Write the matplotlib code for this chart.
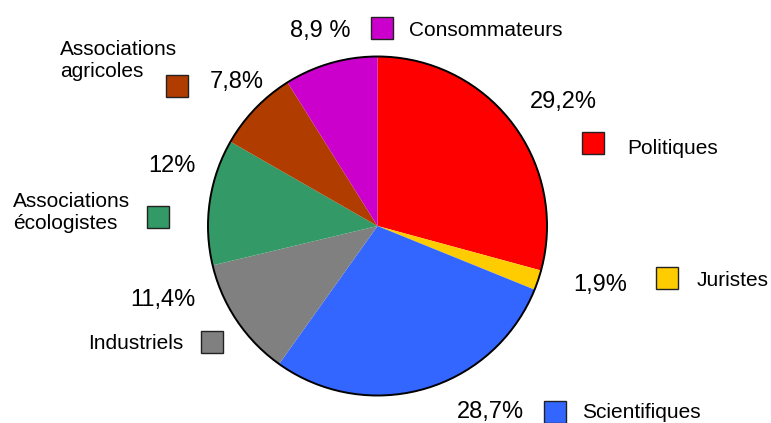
import matplotlib.pyplot as plt
from matplotlib.patches import Circle, Rectangle

plt.rcParams['font.family'] = ['Liberation Sans', 'DejaVu Sans']

# data, clockwise from 12 o'clock
categories = ['Politiques', 'Juristes', 'Scientifiques', 'Industriels',
              'Associations\nécologistes', 'Associations\nagricoles', 'Consommateurs']
shares = [29.2, 1.9, 28.7, 11.4, 12.0, 7.8, 8.9]
pct_labels = ['29,2%', '1,9%', '28,7%', '11,4%', '12%', '7,8%', '8,9 %']
colors = ['#ff0000', '#ffcc00', '#3366ff', '#808080', '#339966', '#b03c00', '#cc00cc']

W, H = 771, 423

# label layout in pixel coords (top-left origin):
# (pct x, pct y, pct ha, square left, square top, label x, label y, label ha)
layout = [
    (530, 102, 'left', 582, 132, 627, 148, 'left'),
    (573, 285, 'left', 656, 267, 697, 280, 'left'),
    (457, 412, 'left', 544, 401, 582, 412, 'left'),
    (195, 300, 'right', 201, 331, 183, 343, 'right'),
    (148, 166, 'left', 147, 206, 13, 212, 'left'),
    (210, 82, 'left', 166, 75, 60, 60, 'left'),
    (350, 31, 'right', 371, 17, 409, 30, 'left'),
]
sq = 22

fig = plt.figure(figsize=(W / 100, H / 100), dpi=100)
ax = fig.add_axes([0, 0, 1, 1])
ax.set_xlim(0, W)
ax.set_ylim(0, H)
ax.set_aspect('equal')
ax.axis('off')

cx, cy, r = 377.5, H - 226, 169.5
ax.pie(shares, colors=colors, startangle=90, counterclock=False,
       center=(cx, cy), radius=r, frame=True,
       wedgeprops=dict(linewidth=0))
ax.set_xlim(0, W)
ax.set_ylim(0, H)
ax.axis('off')
ax.add_patch(Circle((cx, cy), r, fill=False, edgecolor='black', linewidth=1.4))

for cat, pct, col, lay in zip(categories, pct_labels, colors, layout):
    px, py, pha, sx, sy, lx, ly, lha = lay
    ax.text(px, H - py, pct, fontsize=17, ha=pha, va='center')
    ax.add_patch(Rectangle((sx, H - sy - sq), sq, sq, facecolor=col,
                           edgecolor='#222222', linewidth=1.0))
    ax.text(lx, H - ly, cat, fontsize=15, ha=lha, va='center', linespacing=1.2)

fig.savefig('out.png', dpi=100)
